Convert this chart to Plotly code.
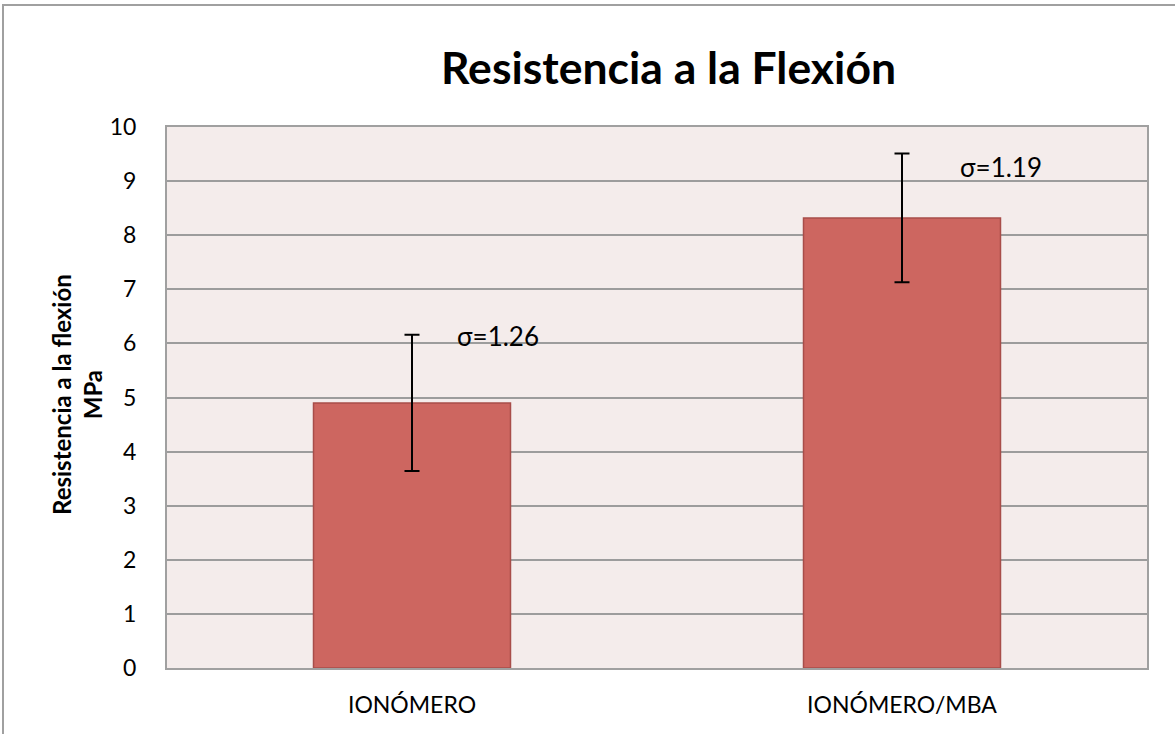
import plotly.graph_objects as go

# Flexural strength means (MPa) and standard deviations
categories = ["IONÓMERO", "IONÓMERO/MBA"]
means = [4.90, 8.32]
sigmas = [1.26, 1.19]
y_ticks = [0, 1, 2, 3, 4, 5, 6, 7, 8, 9, 10]

W, H = 1175, 734
L, R, T, B = 167, 1147, 127, 668  # plot area in pixels

FONT = "Lato"

fig = go.Figure()
fig.add_trace(go.Bar(
    x=categories,
    y=means,
    width=0.402,
    marker=dict(color="#CD6660", line=dict(color="#A84D49", width=1.5)),
    error_y=dict(type="data", array=sigmas, visible=True,
                 color="black", thickness=2, width=7.5),
    hoverinfo="skip",
))

# σ labels to the upper right of each error bar (pixel offsets per label)
label_dx = [43, 56]
label_dy = [-1, -13]
for i, (m, s) in enumerate(zip(means, sigmas)):
    fig.add_annotation(
        x=i, y=m + s, xref="x", yref="y",
        text=f"σ={s:.2f}", showarrow=False,
        xanchor="left", yanchor="middle",
        xshift=label_dx[i], yshift=label_dy[i],
        font=dict(family=FONT, size=26, color="black"),
    )

def px_x(p):
    return (p - L) / (R - L)

def px_y(p):
    return (B - p) / (B - T)

# outer chart frame
fig.add_shape(type="rect", xref="paper", yref="paper",
              x0=px_x(3), x1=px_x(1180), y0=px_y(5), y1=px_y(745),
              line=dict(color="#A0A0A0", width=2), layer="below")

fig.add_annotation(
    x=px_x(668), y=px_y(67), xref="paper", yref="paper",
    text="<b>Resistencia a la Flexión</b>", showarrow=False,
    xanchor="center", yanchor="middle",
    font=dict(family=FONT, size=44.5, color="black"),
)

fig.add_annotation(
    x=px_x(77), y=px_y(395), xref="paper", yref="paper",
    text="<b>Resistencia a la flexión<br>MPa</b>", showarrow=False,
    textangle=-90, xanchor="center", yanchor="middle",
    font=dict(family=FONT, size=24, color="black"),
)

fig.update_layout(
    width=W, height=H,
    margin=dict(l=L, r=W - R, t=T, b=H - B, pad=0, autoexpand=False),
    paper_bgcolor="white",
    plot_bgcolor="#F4ECEB",
    showlegend=False,
)
fig.update_xaxes(
    automargin=False,
    showgrid=False, showline=True, linecolor="#A0A0A0", linewidth=2,
    mirror=True, ticks="", ticklabelstandoff=15,
    tickfont=dict(family=FONT, size=23, color="black"),
)
fig.update_yaxes(
    automargin=False,
    range=[0, 10], tickvals=y_ticks,
    showgrid=True, gridcolor="#9C9C9C", gridwidth=1.5,
    showline=True, linecolor="#A0A0A0", linewidth=2, mirror=True,
    zeroline=False, ticks="", ticklabelstandoff=24,
    tickfont=dict(family=FONT, size=23, color="black"),
)

fig.write_html("out.html")
